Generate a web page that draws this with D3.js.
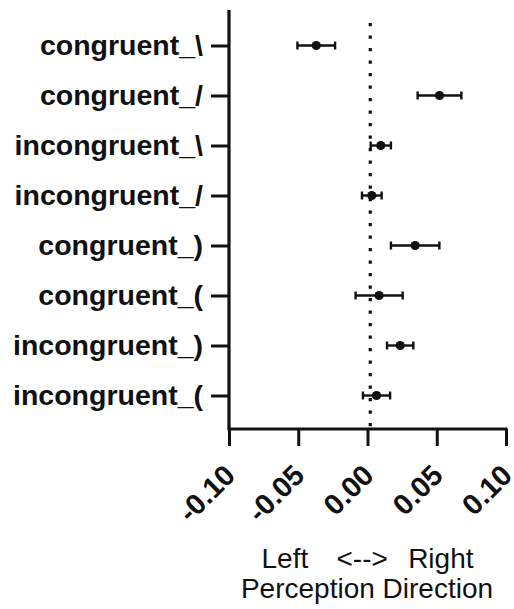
<!DOCTYPE html>
<html>
<head>
<meta charset="utf-8">
<script src="https://cdn.jsdelivr.net/npm/d3@7/dist/d3.min.js"></script>
<style>
  html, body { margin: 0; padding: 0; background: #fff; }
  svg { display: block; }
  text { font-family: "Liberation Sans", Arial, Helvetica, sans-serif; fill: #111; }
</style>
</head>
<body>
<svg id="chart" width="514" height="609"></svg>
<script>
// Conditions, top to bottom
const categories = [
  "congruent_\\", "congruent_/", "incongruent_\\", "incongruent_/",
  "congruent_)", "congruent_(", "incongruent_)", "incongruent_("
];
// Mean perception direction and its error (SEM) per condition
const means = [-0.037, 0.052, 0.0096, 0.0031, 0.0344, 0.0084, 0.0236, 0.0065];
const errors = [0.0136, 0.0158, 0.0073, 0.0071, 0.0175, 0.0170, 0.0095, 0.0098];
// X axis ticks and labels
const xTicks = [-0.10, -0.05, 0.00, 0.05, 0.10];
const xTickLabels = ["-0.10", "-0.05", "0.00", "0.05", "0.10"];
// Reference line value
const refValue = 0.002;

const svg = d3.select("#chart");

const plotLeft = 229, plotRight = 506, plotTop = 10, axisY = 429;
const tickLen = 17;

const x = d3.scaleLinear().domain([-0.10, 0.10]).range([plotLeft, plotRight]);
const y = d3.scalePoint().domain(categories).range([45.5, 395.5]);

const black = "#111";

// dotted reference line
svg.append("line")
  .attr("x1", x(refValue)).attr("x2", x(refValue))
  .attr("y1", 23).attr("y2", axisY)
  .attr("stroke", black).attr("stroke-width", 3.2)
  .attr("stroke-dasharray", "3.2 9.3");

// axes
const yAxis = d3.axisLeft(y).tickSize(18).tickPadding(8).tickSizeOuter(0);
const gy = svg.append("g").attr("transform", `translate(${plotLeft},0)`).call(yAxis);
gy.select(".domain").remove();
gy.selectAll(".tick line").attr("stroke", black).attr("stroke-width", 3);
gy.selectAll(".tick text")
  .attr("fill", black)
  .style("font-size", "28.5px").style("font-weight", "bold")
  .attr("dy", "0.3em");

const xAxis = d3.axisBottom(x).tickValues(xTicks).tickSize(tickLen).tickSizeOuter(0)
  .tickFormat((d, i) => xTickLabels[i]);
const gx = svg.append("g").attr("transform", `translate(0,${axisY})`).call(xAxis);
gx.select(".domain").remove();
gx.selectAll(".tick line").attr("stroke", black).attr("stroke-width", 3);
gx.selectAll(".tick text")
  .attr("fill", black)
  .style("font-size", "29px").style("font-weight", "bold")
  .attr("text-anchor", "end")
  .attr("y", 0).attr("dy", 0)
  .attr("transform", "translate(7.5,48) rotate(-45)");

// axis lines
svg.append("line")
  .attr("x1", plotLeft).attr("x2", plotLeft).attr("y1", plotTop).attr("y2", axisY)
  .attr("stroke", black).attr("stroke-width", 3.2);
svg.append("line")
  .attr("x1", plotLeft - 1.5).attr("x2", plotRight + 1.5).attr("y1", axisY).attr("y2", axisY)
  .attr("stroke", black).attr("stroke-width", 3.2);

// error bars and means
const rows = categories.map((c, i) => ({ c, m: means[i], e: errors[i] }));
const g = svg.append("g");
const capH = 4;
rows.forEach(d => {
  const cy = y(d.c);
  g.append("line")
    .attr("x1", x(d.m - d.e)).attr("x2", x(d.m + d.e))
    .attr("y1", cy).attr("y2", cy)
    .attr("stroke", black).attr("stroke-width", 2.4);
  [d.m - d.e, d.m + d.e].forEach(v => {
    g.append("line")
      .attr("x1", x(v)).attr("x2", x(v))
      .attr("y1", cy - capH).attr("y2", cy + capH)
      .attr("stroke", black).attr("stroke-width", 2.4);
  });
  g.append("circle")
    .attr("cx", x(d.m)).attr("cy", cy).attr("r", 4.6)
    .attr("fill", black);
});

// axis title
const t1y = 568, t2y = 598;
svg.append("text").attr("x", 261.5).attr("y", t1y)
  .style("font-size", "28px").text("Left");
svg.append("text").attr("x", 336.5).attr("y", t1y)
  .style("font-size", "28px").text("<-->");
svg.append("text").attr("x", 473.5).attr("y", t1y)
  .attr("text-anchor", "end").style("font-size", "28px").text("Right");
svg.append("text").attr("x", 367).attr("y", t2y)
  .attr("text-anchor", "middle").style("font-size", "28px").text("Perception Direction");
</script>
</body>
</html>
